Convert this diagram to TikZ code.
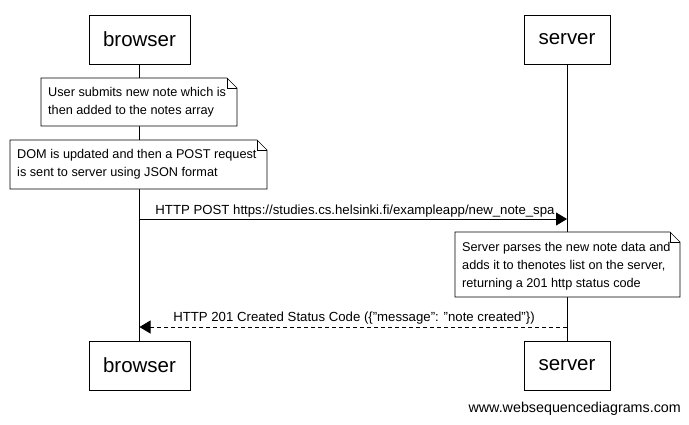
\documentclass[tikz,border=0pt]{standalone}
\usepackage{fontspec}
\setmainfont{Liberation Sans}
\usetikzlibrary{arrows.meta}
\begin{document}
\begin{tikzpicture}[x=1pt,y=-1pt,
  actor/.style={draw,line width=0.8pt,font=\fontsize{20.5}{24}\selectfont,inner sep=0},
  notetxt/.style={font=\fontsize{12.7}{18}\selectfont,align=left,anchor=west,inner sep=0},
  lbl/.style={font=\fontsize{13.2}{15}\selectfont,inner sep=0},
  msg/.style={line width=0.8pt,-{Triangle[length=11pt,width=13pt]}},
  life/.style={line width=0.8pt}]
\useasboundingbox (0,0) rectangle (689,424);
% actor boxes
\node[actor,minimum width=101pt,minimum height=49pt] (bt) at (139.5,39.5) {browser};
\node[actor,minimum width=86pt,minimum height=49pt] (st) at (567,39.5) {server};
\node[actor,minimum width=101pt,minimum height=49pt] (bb) at (139.5,365.5) {browser};
\node[actor,minimum width=86pt,minimum height=49pt] (sb) at (567,365.5) {server};
% lifelines
\draw[life] (bt.south) -- (bb.north);
\draw[life] (st.south) -- (sb.north);
% notes
\newcommand{\notebox}[4]{%
  \fill[white] (#1,#2) -- (#3-10,#2) -- (#3,#2+10) -- (#3,#4) -- (#1,#4) -- cycle;
  \draw[line width=0.6pt] (#1,#2) -- (#3-10,#2) -- (#3,#2+10) -- (#3,#4) -- (#1,#4) -- cycle;
  \draw[line width=0.6pt] (#3-10,#2) -- (#3-10,#2+10) -- (#3,#2+10);}
\notebox{41}{78}{237}{126}
\node[notetxt] (n1) at (48,102) {User submits new note which is\\then added to the notes array};
\notebox{10}{140}{267}{189}
\node[notetxt] (n2) at (17,164.5) {DOM is updated and then a POST request\\is sent to server using JSON format};
\notebox{455}{232}{680}{297}
\node[notetxt] (n3) at (462,266) {Server parses the new note data and\\adds it to thenotes list on the server,\\returning a 201 http status code};
% messages
\coordinate (m1s) at (139.5,219);
\coordinate (m1e) at (567,219);
\draw[msg] (m1s) -- (m1e);
\node[lbl] (l1) at (355,211) {HTTP POST https://studies.cs.helsinki.fi/exampleapp/new\_note\_spa};
\coordinate (m2s) at (567,327);
\coordinate (m2e) at (139.5,327);
\draw[msg,dashed,dash pattern=on 4pt off 3pt] (m2s) -- (m2e);
\node[lbl] (l2) at (354,318.5) {HTTP 201 Created Status Code (\{"message": "note created"\})};
% footer
\node[font=\fontsize{14.3}{16}\selectfont,anchor=east,inner sep=0] (ft) at (681,409) {www.websequencediagrams.com};
\end{tikzpicture}
\end{document}
